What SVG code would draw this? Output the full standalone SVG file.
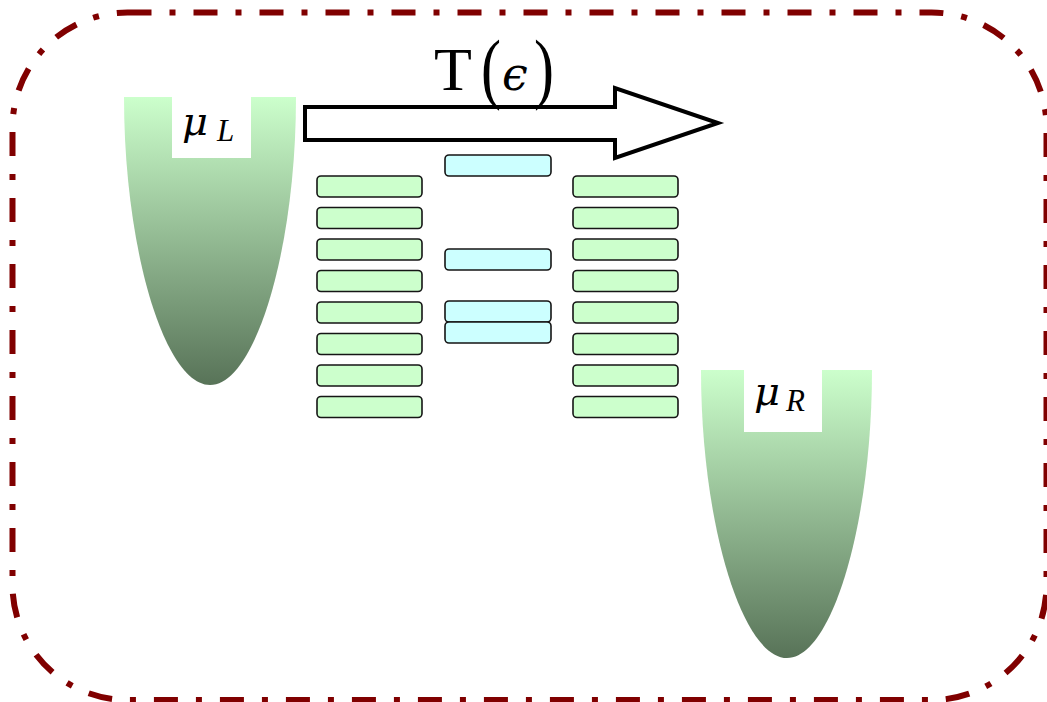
<svg xmlns="http://www.w3.org/2000/svg" width="1047" height="702" viewBox="0 0 1047 702">
  <style>
    .frame { fill: none; stroke: #800000; stroke-width: 6; stroke-dasharray: 24 18 6 18; }
    .lead { fill: #ccffcc; stroke: #151515; stroke-width: 1.6; }
    .dot { fill: #ccffff; stroke: #151515; stroke-width: 1.6; }
    .well { fill: url(#wellFill); }
    .tag { fill: #ffffff; }
    .math { font-family: "Liberation Serif", "DejaVu Serif", serif; fill: #000; }
    .greek { font-family: "DejaVu Serif", "Liberation Serif", serif; fill: #000; font-style: italic; }
    .it { font-style: italic; }
    .flow { fill: #ffffff; stroke: #000; stroke-width: 4; stroke-linejoin: miter; }
  </style>
  <defs>
    <linearGradient id="wellFill" x1="0" y1="0" x2="0" y2="1">
      <stop offset="0" stop-color="#ccffcc"/>
      <stop offset="1" stop-color="#587358"/>
    </linearGradient>
  </defs>

  <rect width="1047" height="702" fill="#ffffff"/>

  <!-- dash-dot frame -->
  <rect class="frame" x="12.5" y="12.5" width="1034" height="687.5" rx="115" ry="115"/>

  <!-- left reservoir -->
  <g id="reservoir-left">
    <path class="well" d="M124,97 L296,97 C296,250 255,385 210,385 C165,385 124,250 124,97 Z"/>
    <rect class="tag" x="172" y="97" width="79" height="61"/>
    <text class="greek" x="182" y="135" font-size="40">μ</text>
    <text class="math it" x="217" y="141" font-size="31">L</text>
  </g>

  <!-- right reservoir -->
  <g id="reservoir-right">
    <path class="well" d="M701,370 L872,370 C872,523 832,658 787,658 C742,658 701,523 701,370 Z"/>
    <rect class="tag" x="744" y="370" width="78" height="62"/>
    <text class="greek" x="754" y="405" font-size="40">μ</text>
    <text class="math it" x="786" y="411" font-size="31">R</text>
  </g>

  <!-- transmission arrow -->
  <g id="transmission">
    <polygon class="flow" points="305,107 615,107 615,88 718,123 615,158 615,140 305,140"/>
    <text class="math" x="434" y="90" font-size="62">T</text>
    <text class="math" transform="translate(481,94) scale(1,1.3)" font-size="60">(</text>
    <text class="greek" x="502" y="90" font-size="46">ϵ</text>
    <text class="math" transform="translate(534,94) scale(1,1.3)" font-size="60">)</text>
  </g>

  <!-- left lead levels -->
  <g id="levels-left">
    <rect class="lead" x="317" y="176" width="105" height="21" rx="4"/>
    <rect class="lead" x="317" y="207.5" width="105" height="21" rx="4"/>
    <rect class="lead" x="317" y="239" width="105" height="21" rx="4"/>
    <rect class="lead" x="317" y="270.5" width="105" height="21" rx="4"/>
    <rect class="lead" x="317" y="302" width="105" height="21" rx="4"/>
    <rect class="lead" x="317" y="333.5" width="105" height="21" rx="4"/>
    <rect class="lead" x="317" y="365" width="105" height="21" rx="4"/>
    <rect class="lead" x="317" y="396.5" width="105" height="21" rx="4"/>
  </g>

  <!-- central levels -->
  <g id="levels-center">
    <rect class="dot" x="445" y="155" width="106" height="21" rx="4"/>
    <rect class="dot" x="445" y="249" width="106" height="21" rx="4"/>
    <rect class="dot" x="445" y="301" width="106" height="21" rx="4"/>
    <rect class="dot" x="445" y="322" width="106" height="21" rx="4"/>
  </g>

  <!-- right lead levels -->
  <g id="levels-right">
    <rect class="lead" x="573" y="176" width="105" height="21" rx="4"/>
    <rect class="lead" x="573" y="207.5" width="105" height="21" rx="4"/>
    <rect class="lead" x="573" y="239" width="105" height="21" rx="4"/>
    <rect class="lead" x="573" y="270.5" width="105" height="21" rx="4"/>
    <rect class="lead" x="573" y="302" width="105" height="21" rx="4"/>
    <rect class="lead" x="573" y="333.5" width="105" height="21" rx="4"/>
    <rect class="lead" x="573" y="365" width="105" height="21" rx="4"/>
    <rect class="lead" x="573" y="396.5" width="105" height="21" rx="4"/>
  </g>

  <!-- no separate connectors beyond the transmission arrow -->
  <g id="connectors"/>
</svg>
